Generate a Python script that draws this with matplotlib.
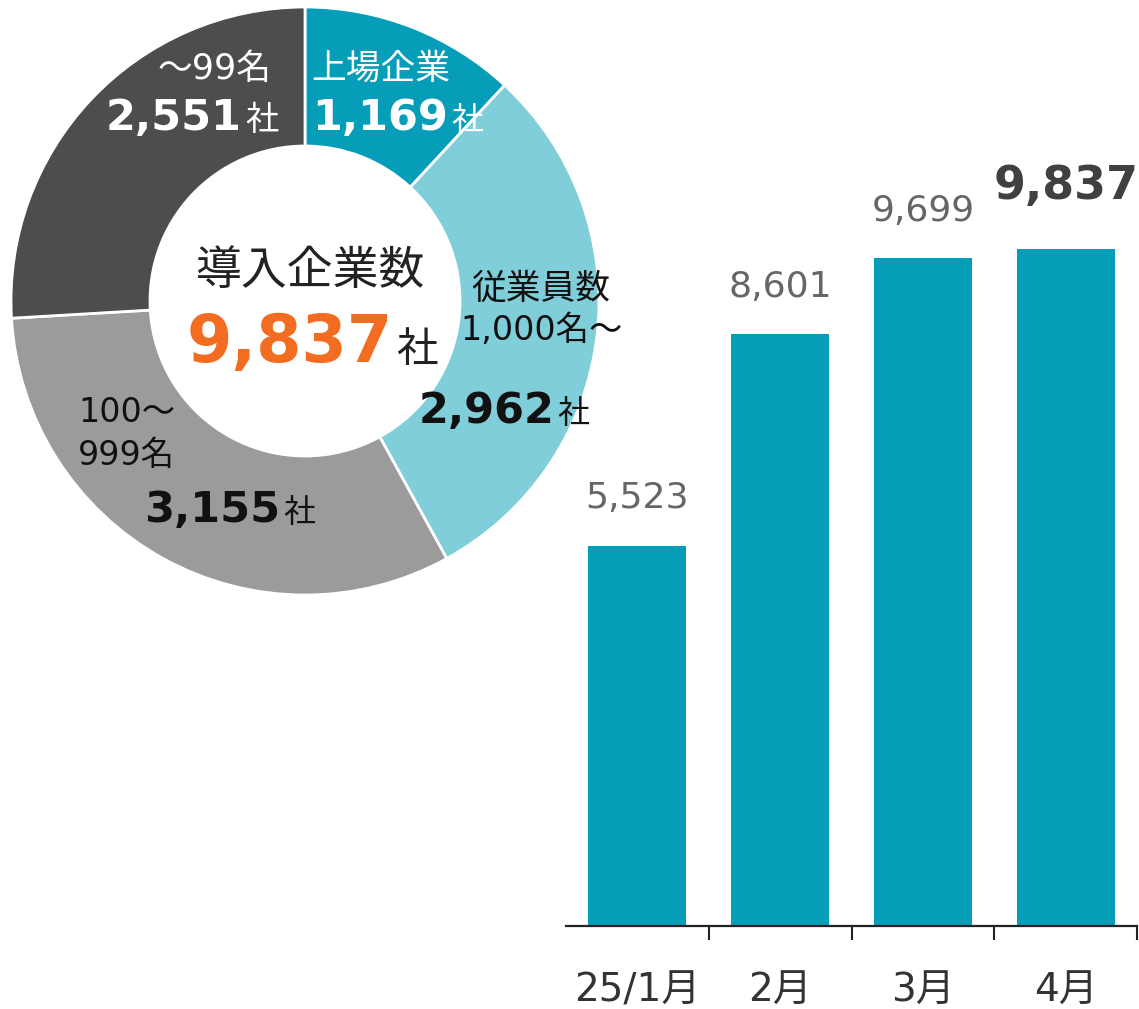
import matplotlib
matplotlib.use("Agg")
import matplotlib.pyplot as plt

plt.rcParams["font.family"] = ["DejaVu Sans", "Noto Sans CJK JP"]

W, H = 1139, 1009

# donut data (clockwise from top)
seg_names = ["上場企業", "従業員数1,000名～", "100～999名", "～99名"]
seg_values = [1169, 2962, 3155, 2551]
seg_colors = ["#069db8", "#80ceda", "#9b9b9b", "#4d4d4d"]
total = sum(seg_values)

# monthly bar data
months = ["25/1月", "2月", "3月", "4月"]
counts = [5523, 8601, 9699, 9837]
bar_color = "#069db8"


def fx(x):
    return x / W


def fy(y):
    return 1 - y / H


fig = plt.figure(figsize=(W / 100, H / 100), dpi=100)

# ---------------- donut ----------------
cx, cy, half = 305, 301, 302
ax_d = fig.add_axes([fx(cx - half), fy(cy + half), 2 * half / W, 2 * half / H])
ax_d.pie(
    seg_values,
    colors=seg_colors,
    startangle=90,
    counterclock=False,
    radius=294,
    wedgeprops=dict(width=139, edgecolor="white", linewidth=2),
)
ax_d.set_xlim(-half, half)
ax_d.set_ylim(-half, half)
ax_d.set_aspect("equal")
ax_d.axis("off")


def num_label(x_split, y_base, num, num_size, unit_size, color, unit_color=None):
    fig.text(fx(x_split), fy(y_base), num, fontsize=num_size, fontweight="bold",
             color=color, ha="right", va="baseline")
    fig.text(fx(x_split + 3), fy(y_base), "社", fontsize=unit_size,
             color=unit_color or color, ha="left", va="baseline")


# 上場企業
fig.text(fx(381), fy(69), "上場企業", fontsize=25, color="white", ha="center", va="center")
num_label(448, 130, f"{seg_values[0]:,}", 31, 23, "white")
# ～99名
fig.text(fx(215), fy(69), "～99名", fontsize=25, color="white", ha="center", va="center")
num_label(242, 130, f"{seg_values[3]:,}", 31, 24, "white")
# 従業員数1,000名～
fig.text(fx(541), fy(289), "従業員数", fontsize=25, color="#111111", ha="center", va="center")
fig.text(fx(460), fy(330), "1,000名～", fontsize=24, color="#111111", ha="left", va="center")
num_label(554, 423, f"{seg_values[1]:,}", 31, 23, "#111111")
# 100～999名
fig.text(fx(78), fy(412), "100～", fontsize=24, color="#111111", ha="left", va="center")
fig.text(fx(78), fy(455), "999名", fontsize=24, color="#111111", ha="left", va="center")
num_label(280, 522, f"{seg_values[2]:,}", 31, 23, "#111111")
# center
fig.text(fx(311), fy(272), "導入企業数", fontsize=33, color="#222222", ha="center", va="center")
num_label(393, 362, f"{total:,}", 47, 30, "#f26d21", unit_color="#222222")

# ---------------- bars ----------------
base_y, top_y = 926, 150
px_per_unit = (926 - 249) / 9837
ax_b = fig.add_axes([fx(566), fy(base_y), (1137 - 566) / W, (base_y - top_y) / H])
ax_b.patch.set_visible(False)
xs = list(range(len(months)))
ax_b.bar(xs, counts, width=0.685, color=bar_color)
ax_b.set_xlim(-0.5, 3.5)
ax_b.set_ylim(0, (base_y - top_y) / px_per_unit)

for i, v in enumerate(counts):
    last = i == len(counts) - 1
    ax_b.annotate(
        f"{v:,}", (i, v), xytext=(0, 36 if last else 27), textcoords="offset points",
        ha="center", va="baseline",
        fontsize=33 if last else 26,
        fontweight="bold" if last else "normal",
        color="#404040" if last else "#666666",
        annotation_clip=False,
    )

for s in ["top", "right", "left"]:
    ax_b.spines[s].set_visible(False)
ax_b.spines["bottom"].set_linewidth(1.6)
ax_b.spines["bottom"].set_color("#222222")
ax_b.set_yticks([])
ax_b.set_xticks(xs)
ax_b.set_xticklabels(months, fontsize=28, color="#333333")
ax_b.tick_params(axis="x", which="major", length=0, pad=33)
ax_b.set_xticks([0.5, 1.5, 2.5, 3.5], minor=True)
ax_b.tick_params(axis="x", which="minor", length=10, width=1.5, color="#222222")

fig.savefig("out.png", dpi=100)
